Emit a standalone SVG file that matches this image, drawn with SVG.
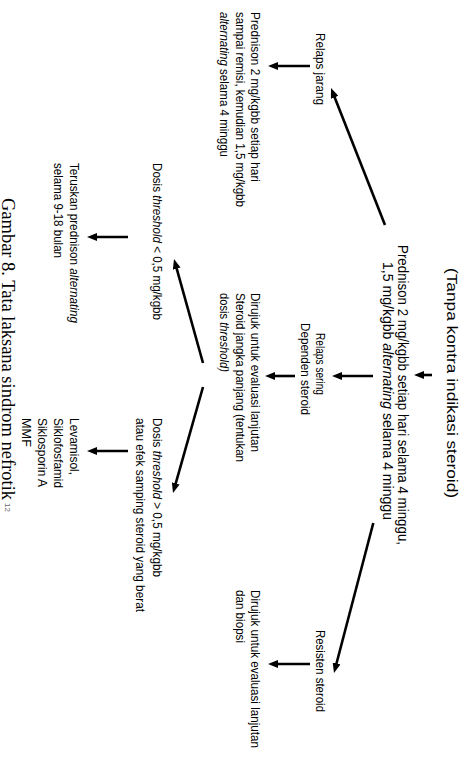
<svg xmlns="http://www.w3.org/2000/svg" width="461" height="775" viewBox="0 0 461 775">
<defs>
<marker id="ah" viewBox="0 0 10 8" markerWidth="10" markerHeight="8" markerUnits="userSpaceOnUse" refX="2" refY="4" orient="auto">
<path d="M0,0 L10,4 L0,8 z" fill="#000"/>
</marker>
<style>
text{font-family:"Liberation Sans",Arial,sans-serif;font-size:13px;fill:#000}
.big{font-size:14.5px}
.top{font-size:14.5px}
.mid{text-anchor:middle}
.i{font-style:italic}
.cap{font-family:"Liberation Serif","Times New Roman",serif;font-size:18.5px}
.sup{font-size:8px;fill:#666}
.c line{stroke:#000;stroke-width:2.6;marker-end:url(#ah)}
</style>
</defs>
<rect width="461" height="775" fill="#fff"/>
<g transform="translate(461,0) rotate(90)">
<g id="n-tanpa"><text class="top mid" x="383" y="14" textLength="230" lengthAdjust="spacingAndGlyphs">(Tanpa kontra indikasi steroid)</text></g>
<g id="n-prednison">
<text class="big mid" x="395" y="63" textLength="300" lengthAdjust="spacingAndGlyphs">Prednison 2 mg/kgbb setiap hari selama 4 minggu,</text>
<text class="big mid" x="391" y="78" textLength="258" lengthAdjust="spacingAndGlyphs">1,5 mg/kgbb <tspan class="i">alternating</tspan> selama 4 minggu</text>
</g>
<g id="n-relaps-jarang"><text x="33" y="145" textLength="72" lengthAdjust="spacingAndGlyphs">Relaps jarang</text></g>
<g id="n-relaps-sering">
<text class="mid" x="364" y="145" textLength="62" lengthAdjust="spacingAndGlyphs">Relaps sering</text>
<text class="mid" x="369" y="160" textLength="92" lengthAdjust="spacingAndGlyphs">Dependen steroid</text>
</g>
<g id="n-resisten"><text x="630" y="145" textLength="82" lengthAdjust="spacingAndGlyphs">Resisten steroid</text></g>
<g id="n-jarang-terapi">
<text x="12" y="210" textLength="170" lengthAdjust="spacingAndGlyphs">Prednison 2 mg/kgbb setiap hari</text>
<text x="12" y="225.5" textLength="195" lengthAdjust="spacingAndGlyphs">sampai remisi, kemudian 1,5 mg/kgbb</text>
<text x="12" y="241" textLength="145" lengthAdjust="spacingAndGlyphs"><tspan class="i">alternating</tspan> selama 4 minggu</text>
</g>
<g id="n-dirujuk-threshold">
<text x="293" y="210" textLength="159" lengthAdjust="spacingAndGlyphs">Dirujuk untuk evaluasi lanjutan</text>
<text x="293" y="225.5" textLength="169" lengthAdjust="spacingAndGlyphs">Steroid jangka panjang (tentukan</text>
<text x="293" y="241" textLength="79" lengthAdjust="spacingAndGlyphs">dosis <tspan class="i">threshold)</tspan></text>
</g>
<g id="n-dirujuk-biopsi">
<text x="590" y="210" textLength="158" lengthAdjust="spacingAndGlyphs">Dirujuk untuk evaluasi lanjutan</text>
<text x="590" y="225.5" textLength="53" lengthAdjust="spacingAndGlyphs">dan biopsi</text>
</g>
<g id="n-dosis-kecil"><text x="163" y="308" textLength="157" lengthAdjust="spacingAndGlyphs">Dosis <tspan class="i">threshold</tspan> &lt; 0,5 mg/kgbb</text></g>
<g id="n-dosis-besar">
<text x="418" y="308" textLength="159" lengthAdjust="spacingAndGlyphs">Dosis <tspan class="i">threshold</tspan> &gt; 0,5 mg/kgbb</text>
<text x="418" y="325" textLength="194" lengthAdjust="spacingAndGlyphs">atau efek samping steroid yang berat</text>
</g>
<g id="n-teruskan">
<text x="163" y="391" textLength="160" lengthAdjust="spacingAndGlyphs">Teruskan prednison <tspan class="i">alternating</tspan></text>
<text x="163" y="407" textLength="95" lengthAdjust="spacingAndGlyphs">selama 9-18 bulan</text>
</g>
<g id="n-obat">
<text x="418" y="391" textLength="57" lengthAdjust="spacingAndGlyphs">Levamisol,</text>
<text x="418" y="407" textLength="70" lengthAdjust="spacingAndGlyphs">Siklofosfamid</text>
<text x="418" y="423" textLength="69" lengthAdjust="spacingAndGlyphs">Siklosporin A</text>
<text x="418" y="439" textLength="29" lengthAdjust="spacingAndGlyphs">MMF</text>
</g>
<g id="caption">
<text class="cap" x="198" y="459.5" textLength="302" lengthAdjust="spacingAndGlyphs">Gambar 8. Tata laksana sindrom nefrotik</text>
<text class="sup" x="503" y="456">12</text>
</g>
<g id="connectors" class="c">
<line x1="375" y1="29" x2="375" y2="39"/>
<line x1="225" y1="76" x2="95.44" y2="127.07"/>
<line x1="376" y1="88" x2="376" y2="121"/>
<line x1="523" y1="87.7" x2="665.26" y2="124.97"/>
<line x1="66" y1="151" x2="66" y2="185"/>
<line x1="376" y1="166" x2="376" y2="188"/>
<line x1="664" y1="151" x2="664" y2="185"/>
<line x1="363" y1="258" x2="266.71" y2="284.85"/>
<line x1="387" y1="258" x2="485.3" y2="285.82"/>
<line x1="237" y1="333" x2="237" y2="366"/>
<line x1="451" y1="333" x2="451" y2="366"/>
</g>
</g>
</svg>
